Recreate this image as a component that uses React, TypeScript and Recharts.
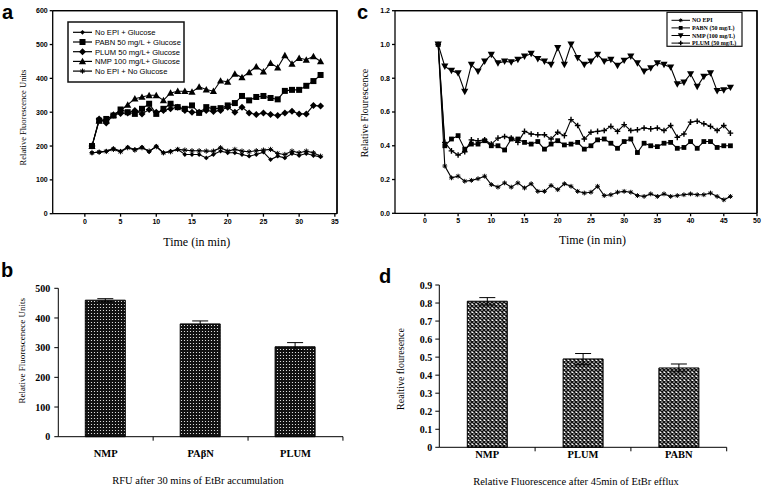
import React from "react";
import { Bar, BarChart, CartesianGrid, ErrorBar, Line, LineChart, XAxis, YAxis } from "recharts";

// panel a: EtBr accumulation
const timeA = [1, 2, 3, 4, 5, 6, 7, 8, 9, 10, 11, 12, 13, 14, 15, 16, 17, 18, 19, 20, 21, 22, 23, 24, 25, 26, 27, 28, 29, 30, 31, 32, 33];
const noEpiGlucose = [180, 182, 185, 193, 185, 197, 190, 197, 183, 200, 180, 185, 190, 175, 175, 175, 165, 175, 185, 180, 180, 175, 170, 175, 182, 160, 170, 165, 178, 172, 178, 172, 168];
const pabnGlucose = [200, 275, 280, 290, 308, 300, 295, 310, 325, 295, 310, 325, 315, 310, 320, 298, 315, 310, 312, 320, 327, 348, 335, 345, 348, 342, 338, 363, 366, 366, 378, 392, 410];
const plumGlucose = [200, 280, 268, 292, 296, 298, 305, 295, 308, 300, 305, 310, 315, 305, 300, 300, 305, 302, 305, 315, 300, 315, 298, 293, 298, 293, 290, 298, 303, 295, 295, 320, 318];
const nmpGlucose = [200, 275, 275, 292, 305, 322, 340, 345, 350, 350, 335, 357, 362, 362, 360, 375, 367, 362, 393, 390, 413, 403, 418, 435, 420, 445, 432, 468, 443, 460, 455, 465, 450];
const noEpiNoGlucose = [180, 182, 184, 190, 183, 195, 188, 195, 185, 198, 180, 183, 190, 188, 186, 186, 185, 185, 195, 185, 190, 185, 183, 186, 188, 190, 178, 175, 185, 180, 185, 180, 170];
const ticksA = [0, 5, 10, 15, 20, 25, 30, 35];
const yTicksA = [0, 100, 200, 300, 400, 500, 600];
const domainA = [-4.5, 35.3];

// panel c: EtBr efflux
const timeC = [2, 3, 4, 5, 6, 7, 8, 9, 10, 11, 12, 13, 14, 15, 16, 17, 18, 19, 20, 21, 22, 23, 24, 25, 26, 27, 28, 29, 30, 31, 32, 33, 34, 35, 36, 37, 38, 39, 40, 41, 42, 43, 44, 45, 46];
const noEpi = [1.0, 0.28, 0.21, 0.22, 0.19, 0.195, 0.205, 0.22, 0.17, 0.155, 0.18, 0.155, 0.18, 0.15, 0.175, 0.13, 0.13, 0.165, 0.14, 0.175, 0.16, 0.13, 0.12, 0.125, 0.16, 0.105, 0.11, 0.125, 0.13, 0.125, 0.105, 0.1, 0.115, 0.1, 0.115, 0.1, 0.105, 0.11, 0.115, 0.11, 0.11, 0.12, 0.1, 0.08, 0.1];
const pabn = [1.0, 0.4, 0.44, 0.46, 0.38, 0.41, 0.41, 0.43, 0.4, 0.4, 0.375, 0.44, 0.44, 0.42, 0.41, 0.425, 0.38, 0.41, 0.43, 0.405, 0.41, 0.42, 0.38, 0.4, 0.435, 0.44, 0.415, 0.385, 0.425, 0.44, 0.36, 0.415, 0.4, 0.395, 0.415, 0.42, 0.385, 0.39, 0.425, 0.385, 0.425, 0.425, 0.39, 0.4, 0.4];
const nmp = [1.0, 0.87, 0.845, 0.83, 0.72, 0.88, 0.84, 0.9, 0.94, 0.89, 0.9, 0.895, 0.91, 0.93, 0.945, 0.915, 0.9, 0.88, 0.98, 0.88, 1.0, 0.92, 0.88, 0.9, 0.94, 0.9, 0.91, 0.875, 0.905, 0.93, 0.89, 0.84, 0.86, 0.89, 0.88, 0.865, 0.765, 0.775, 0.825, 0.75, 0.81, 0.83, 0.725, 0.73, 0.745];
const plum = [1.0, 0.42, 0.37, 0.345, 0.365, 0.435, 0.43, 0.435, 0.41, 0.445, 0.455, 0.445, 0.42, 0.485, 0.47, 0.465, 0.465, 0.44, 0.48, 0.46, 0.555, 0.52, 0.44, 0.48, 0.485, 0.49, 0.515, 0.485, 0.525, 0.49, 0.495, 0.505, 0.5, 0.505, 0.49, 0.52, 0.45, 0.47, 0.54, 0.545, 0.53, 0.515, 0.49, 0.52, 0.475];
const ticksC = [0, 5, 10, 15, 20, 25, 30, 35, 40, 45, 50];
const yTicksC = [0, 0.2, 0.4, 0.6, 0.8, 1.0, 1.2];
const domainC = [-4.5, 50];

// panel b: RFU after 30 min
const accumCats = ["NMP", "PAβN", "PLUM"];
const accumVals = [460, 380, 303];
const accumErr = [5, 10, 14];
const yTicksB = [0, 100, 200, 300, 400, 500];

// panel d: relative fluorescence after 45 min
const effluxCats = ["NMP", "PLUM", "PABN"];
const effluxVals = [0.81, 0.49, 0.44];
const effluxErr = [0.02, 0.03, 0.022];
const yTicksD = [0, 0.1, 0.2, 0.3, 0.4, 0.5, 0.6, 0.7, 0.8, 0.9];

const dataA = timeA.map((t, i) => ({
  t,
  noEpiGlucose: noEpiGlucose[i],
  pabnGlucose: pabnGlucose[i],
  plumGlucose: plumGlucose[i],
  nmpGlucose: nmpGlucose[i],
  noEpiNoGlucose: noEpiNoGlucose[i],
}));
const dataC = timeC.map((t, i) => ({ t, noEpi: noEpi[i], pabn: pabn[i], nmp: nmp[i], plum: plum[i] }));
const dataB = accumCats.map((name, i) => ({ name, v: accumVals[i], e: accumErr[i] }));
const dataD = effluxCats.map((name, i) => ({ name, v: effluxVals[i], e: effluxErr[i] }));

const SANS = "Liberation Sans, Arial, sans-serif";
const SERIF = "Liberation Serif, Times New Roman, serif";

// plot boxes of the two line panels (page pixels), used for chart margins and the frame
const boxA = { left: 52.7, right: 337, top: 10.7, bottom: 213.7 };
const boxC = { left: 395, right: 757, top: 10.7, bottom: 213.3 };

type MarkerProps = { cx?: number; cy?: number; kind: string; r?: number };

const Marker = ({ cx, cy, kind, r = 3 }: MarkerProps) => {
  if (cx == null || cy == null) return null;
  switch (kind) {
    case "square":
      return <rect x={cx - r} y={cy - r} width={2 * r} height={2 * r} fill="#000" />;
    case "diamond":
      return <path d={`M${cx},${cy - r}L${cx + r},${cy}L${cx},${cy + r}L${cx - r},${cy}Z`} fill="#000" />;
    case "up":
      return <path d={`M${cx},${cy - r}L${cx + r},${cy + r * 0.8}L${cx - r},${cy + r * 0.8}Z`} fill="#000" />;
    case "down":
      return <path d={`M${cx},${cy + r}L${cx + r},${cy - r * 0.8}L${cx - r},${cy - r * 0.8}Z`} fill="#000" />;
    case "plus":
      return <path d={`M${cx - r},${cy}H${cx + r}M${cx},${cy - r}V${cy + r}`} stroke="#000" strokeWidth={1.4} />;
    case "star":
      return (
        <path
          d={`M${cx - r},${cy}H${cx + r}M${cx},${cy - r}V${cy + r}M${cx - r * 0.7},${cy - r * 0.7}L${cx + r * 0.7},${cy + r * 0.7}M${cx + r * 0.7},${cy - r * 0.7}L${cx - r * 0.7},${cy + r * 0.7}`}
          stroke="#000"
          strokeWidth={1}
        />
      );
    default:
      return null;
  }
};

const dotOf = (id: string, kind: string, r: number) => (p: any) => (
  <Marker key={`${id}-${p.index}`} cx={p.cx} cy={p.cy} kind={kind} r={r} />
);

const seriesA = [
  { key: "noEpiGlucose", label: "No EPI + Glucose", kind: "diamond", r: 2.4 },
  { key: "pabnGlucose", label: "PABN 50 mg/L + Glucose", kind: "square", r: 3 },
  { key: "plumGlucose", label: "PLUM 50 mg/L+ Glucose", kind: "diamond", r: 3.5 },
  { key: "nmpGlucose", label: "NMP 100 mg/L+ Glucose", kind: "up", r: 3.6 },
  { key: "noEpiNoGlucose", label: "No EPI + No Glucose", kind: "star", r: 2.6 },
];

const seriesC = [
  { key: "noEpi", label: "NO EPI", kind: "star", r: 2.4 },
  { key: "pabn", label: "PABN (50 mg/L)", kind: "square", r: 2.4 },
  { key: "nmp", label: "NMP (100 mg/L)", kind: "down", r: 3.6 },
  { key: "plum", label: "PLUM (50 mg/L)", kind: "plus", r: 2.8 },
];

const smallTick = { fontSize: 7, fontWeight: 700, fontFamily: SANS, fill: "#000" };
const serifTick = { fontSize: 10, fontWeight: 700, fontFamily: SERIF, fill: "#000" };

const CatTick = ({ x, y, payload, half, dy }: any) => (
  <g>
    <line x1={x + half} x2={x + half} y1={y} y2={y + 4} stroke="#000" />
    <text x={x} y={y + dy} textAnchor="middle" fontSize={10.5} fontWeight={700} fontFamily={SERIF} fill="#000">
      {payload.value}
    </text>
  </g>
);

// top and right edges of a framed plot
const frameTopRight = (b: typeof boxA) => `M${b.left},${b.top}H${b.right}V${b.bottom}`;

const Overlay = () => (
  <svg width={762} height={488} style={{ position: "absolute", left: 0, top: 0, pointerEvents: "none" }}>
    <path d={frameTopRight(boxA)} fill="none" stroke="#000" strokeWidth={1.3} />
    <path d={frameTopRight(boxC)} fill="none" stroke="#000" strokeWidth={1.3} />
    <g fontFamily={SANS} fontWeight={700} fontSize={20} fill="#000">
      <text x={2} y={18.5}>a</text>
      <text x={357} y={18.5}>c</text>
      <text x={1} y={277}>b</text>
      <text x={379} y={283}>d</text>
    </g>
    <g fontFamily={SERIF} fill="#000" textAnchor="middle">
      <text x={196.7} y={245.5} fontSize={12}>Time (in min)</text>
      <text x={592.5} y={244} fontSize={12}>Time (in min)</text>
      <text x={198} y={483.5} fontSize={10.5}>RFU after 30 mins of EtBr accumulation</text>
      <text x={576} y={485} fontSize={10.5}>Relative  Fluorescence after 45min of EtBr efflux</text>
      <text x={22.5} y={117.5} fontSize={8.5} transform="rotate(-90 22.5 117.5)" dominantBaseline="central">Relative Fluorescence Units</text>
      <text x={364} y={113} fontSize={10} transform="rotate(-90 364 113)" dominantBaseline="central">Relative  Flourescence</text>
      <text x={22.5} y={350.8} fontSize={9} transform="rotate(-90 22.5 350.8)" dominantBaseline="central">Relative Fluorescenece Units</text>
      <text x={400} y={369} fontSize={10} transform="rotate(-90 400 369)" dominantBaseline="central">Realtive flouresence</text>
    </g>
    {/* legend a */}
    <rect x={68} y={22} width={116} height={60} fill="#fff" stroke="#111" strokeWidth={1.5} />
    {seriesA.map((s, i) => {
      const y = 32.3 + i * 9.7;
      return (
        <g key={s.key}>
          <line x1={73} x2={92} y1={y} y2={y} stroke="#000" strokeWidth={1.2} />
          <Marker cx={82.5} cy={y} kind={s.kind} r={s.r} />
          <text x={95} y={y + 2.8} fontSize={7.6} fontFamily={SANS} fill="#000">{s.label}</text>
        </g>
      );
    })}
    {/* legend c */}
    <rect x={667} y={12.3} width={75} height={34} fill="#fff" stroke="#111" strokeWidth={1.2} />
    {seriesC.map((s, i) => {
      const y = 20.3 + i * 7.6;
      return (
        <g key={s.key}>
          <line x1={671.5} x2={690} y1={y} y2={y} stroke="#000" strokeWidth={1} />
          <Marker cx={680.7} cy={y} kind={s.kind} r={s.r * 0.8} />
          <text x={692} y={y + 2} fontSize={6} fontWeight={700} fontFamily={SERIF} fill="#000">{s.label}</text>
        </g>
      );
    })}
  </svg>
);

const edgeGrid = {
  stroke: "#000",
  strokeWidth: 1.3,
  horizontalCoordinatesGenerator: ({ offset }: any) => [offset.top],
  verticalCoordinatesGenerator: ({ offset }: any) => [offset.left + offset.width],
};

const App = () => {
  return (
    <div style={{ position: "absolute", left: 0, top: 0, width: 762, height: 488, background: "#fff" }}>
      {/* a */}
      <div style={{ position: "absolute", left: 0, top: 0 }}>
        <LineChart width={345} height={232} data={dataA} margin={{ top: boxA.top, right: 345 - boxA.right, left: 0, bottom: 0 }}>
          <CartesianGrid {...edgeGrid} />
          <XAxis dataKey="t" type="number" domain={domainA} ticks={ticksA} interval={0} height={232 - boxA.bottom} tickSize={3} tickMargin={2} tick={smallTick} stroke="#000" strokeWidth={1.3} />
          <YAxis domain={[0, 600]} ticks={yTicksA} interval={0} width={boxA.left} tickSize={3} tickMargin={2} tick={smallTick} stroke="#000" strokeWidth={1.3} />
          {seriesA.map((s) => (
            <Line key={s.key} dataKey={s.key} type="linear" stroke="#000" strokeWidth={1.1} dot={dotOf(s.key, s.kind, s.r)} activeDot={false} isAnimationActive={false} />
          ))}
        </LineChart>
      </div>
      {/* c */}
      <div style={{ position: "absolute", left: 350, top: 0 }}>
        <LineChart width={412} height={232} data={dataC} margin={{ top: boxC.top, right: 762 - boxC.right, left: 0, bottom: 0 }}>
          <CartesianGrid {...edgeGrid} />
          <XAxis dataKey="t" type="number" domain={domainC} ticks={ticksC} interval={0} height={232 - boxC.bottom} tickSize={3} tickMargin={2} tick={smallTick} stroke="#000" strokeWidth={1.3} />
          <YAxis domain={[0, 1.2]} ticks={yTicksC} interval={0} width={boxC.left - 350} tickSize={3} tickMargin={2} tick={smallTick} tickFormatter={(v: number) => v.toFixed(1)} stroke="#000" strokeWidth={1.3} />
          {seriesC.map((s) => (
            <Line key={s.key} dataKey={s.key} type="linear" stroke="#000" strokeWidth={1.1} dot={dotOf(s.key, s.kind, s.r)} activeDot={false} isAnimationActive={false} />
          ))}
        </LineChart>
      </div>
      {/* b */}
      <div style={{ position: "absolute", left: 0, top: 270 }}>
        <BarChart width={350} height={190} data={dataB} margin={{ top: 18.3, right: 7, left: 0, bottom: 0 }}>
          <defs>
            <pattern id="dotsB" width={3} height={3} patternUnits="userSpaceOnUse">
              <rect width={3} height={3} fill="#111" />
              <circle cx={1.5} cy={1.5} r={0.6} fill="#fff" />
            </pattern>
          </defs>
          <XAxis dataKey="name" height={23.3} tickLine={false} tickSize={0} tickMargin={0} interval={0} tick={<CatTick half={47.4} dy={20} />} stroke="#000" />
          <YAxis domain={[0, 500]} ticks={yTicksB} interval={0} width={58.3} tickSize={4} tickMargin={4} tick={serifTick} stroke="#000" />
          <Bar dataKey="v" fill="url(#dotsB)" stroke="#000" strokeWidth={1} barSize={40} isAnimationActive={false}>
            <ErrorBar dataKey="e" width={8} stroke="#000" strokeWidth={1} isAnimationActive={false} />
          </Bar>
        </BarChart>
      </div>
      {/* d */}
      <div style={{ position: "absolute", left: 380, top: 270 }}>
        <BarChart width={350} height={200} data={dataD} margin={{ top: 15, right: 3.3, left: 0, bottom: 0 }}>
          <defs>
            <pattern id="hatchD" width={4} height={4} patternUnits="userSpaceOnUse">
              <rect width={4} height={4} fill="#fff" />
              <path d="M0,0L4,4M4,0L0,4" stroke="#111" strokeWidth={1.5} />
            </pattern>
          </defs>
          <XAxis dataKey="name" height={22.7} tickLine={false} tickSize={0} tickMargin={0} interval={0} tick={<CatTick half={47.9} dy={11} />} stroke="#000" />
          <YAxis domain={[0, 0.9]} ticks={yTicksD} interval={0} width={59.3} tickSize={4} tickMargin={3} tick={serifTick} tickFormatter={(v: number) => (v === 0 ? "0" : String(Math.round(v * 10) / 10))} stroke="#000" />
          <Bar dataKey="v" fill="url(#hatchD)" stroke="#000" strokeWidth={1} barSize={40} isAnimationActive={false}>
            <ErrorBar dataKey="e" width={8} stroke="#000" strokeWidth={1} isAnimationActive={false} />
          </Bar>
        </BarChart>
      </div>
      <Overlay />
    </div>
  );
};

export default App;
